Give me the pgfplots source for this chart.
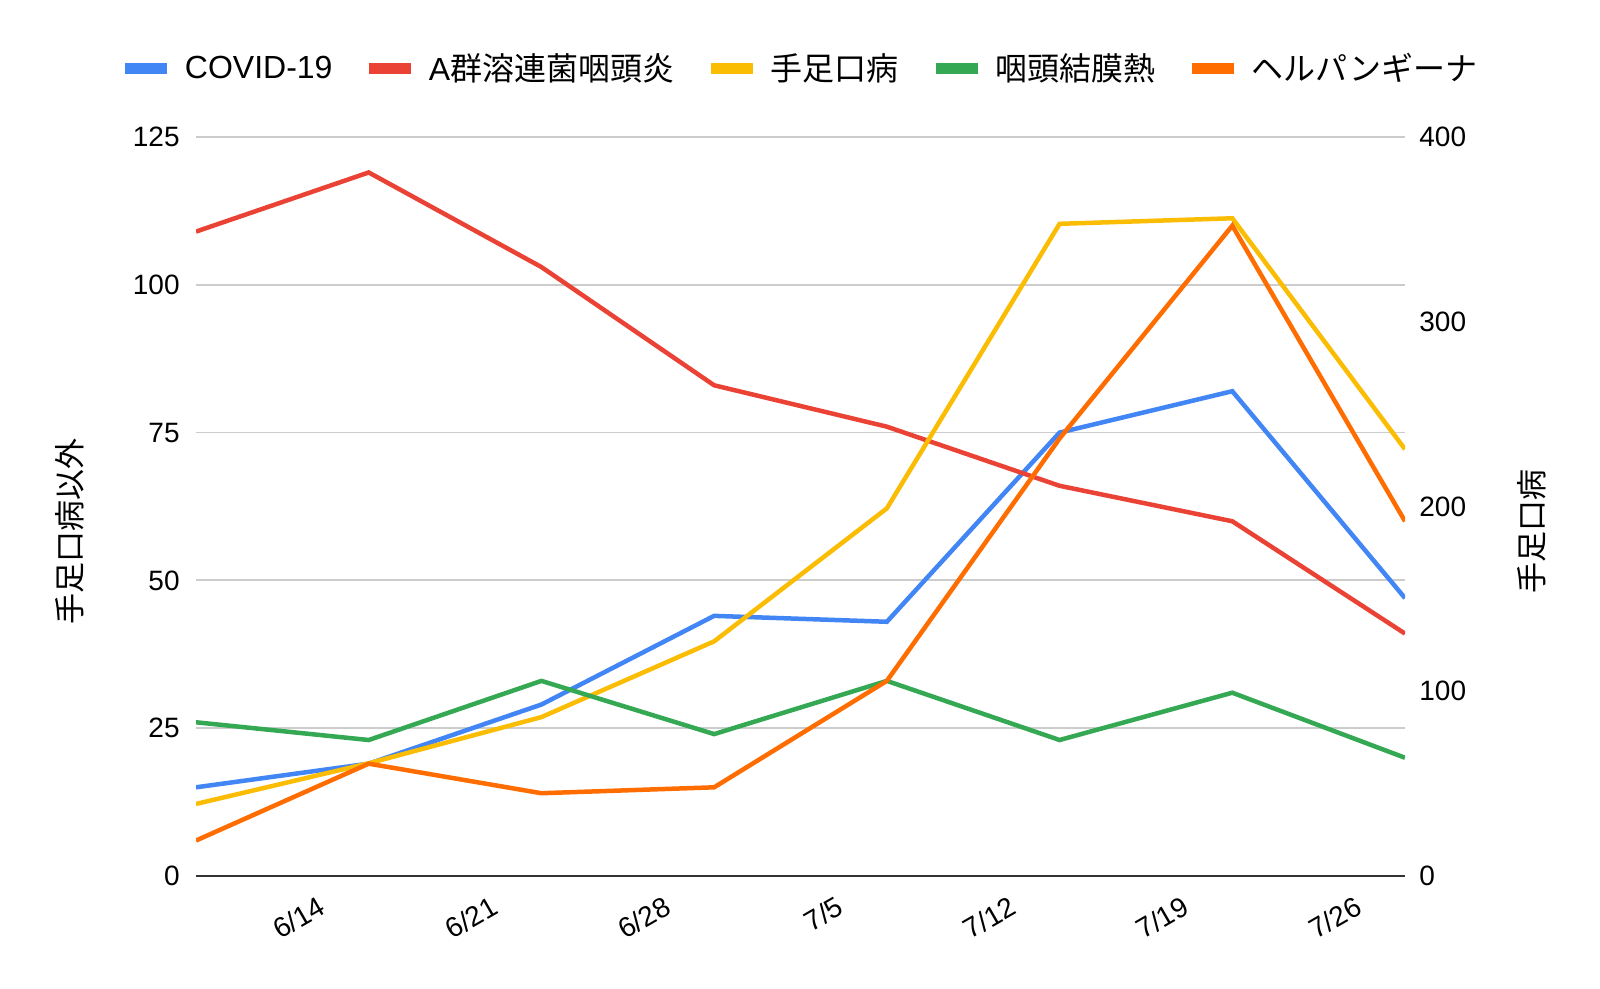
\documentclass[border=0pt]{standalone}
\usepackage{fontspec}
\setmainfont{Liberation Sans}
\newfontfamily\cjk{Noto Sans CJK JP}
\usepackage{pgfplots}
\pgfplotsset{compat=1.18}
\definecolor{cblue}{HTML}{4285F4}
\definecolor{cred}{HTML}{EA4335}
\definecolor{cyellow}{HTML}{FBBC04}
\definecolor{cgreen}{HTML}{34A853}
\definecolor{corange}{HTML}{FF6D01}
\definecolor{cgrid}{HTML}{CCCCCC}
\definecolor{caxis}{HTML}{333333}
\pgfplotsset{
  base/.style={at={(98pt,56.5pt)}, anchor=south west, scale only axis,
    width=604.5pt, height=369.5pt, xmin=0, xmax=7, major tick length=0pt,
    tick label style={font=\fontsize{14}{16}\selectfont, /pgf/number format/assume math mode=true},
    every axis plot/.append style={line width=2.25pt, mark=none}},
}
\begin{document}
\begin{tikzpicture}
\useasboundingbox (0,0) rectangle (800pt,494.5pt);
\begin{axis}[base, ymin=0, ymax=125, ytick={0,25,50,75,100,125},
  xtick={0.64,1.64,2.64,3.64,4.64,5.64,6.64},
  xticklabels={6/14,6/21,6/28,7/5,7/12,7/19,7/26},
  xticklabel style={rotate=30, anchor=east, inner sep=0pt, yshift=-16pt},
  yticklabel style={anchor=east, inner sep=0pt, xshift=-8pt},
  ymajorgrids, grid style={draw=cgrid, line width=0.9pt},
  axis x line*=bottom, axis y line*=left,
  x axis line style={draw=caxis, line width=1.3pt, -},
  y axis line style={draw=none},
  every axis y label/.style={at={(axis description cs:-0.1046,0.4655)}, rotate=90, anchor=center, font=\cjk\fontsize{15.5}{18}\selectfont},
  ylabel={手足口病以外},
  legend columns=-1,
  legend style={at={(0.5,1)}, anchor=center, yshift=34.25pt, draw=none, fill=none,
    font=\fontsize{16}{18}\selectfont,
    /tikz/every odd column/.append style={column sep=4pt},
    /tikz/every even column/.append style={column sep=13.7pt}},
  legend image code/.code={\draw[#1, line width=5.5pt] (0pt,0pt) -- (21pt,0pt);},
]
\addplot[cblue] coordinates {(0,15) (1,19) (2,29) (3,44) (4,43) (5,75) (6,82) (7,47)};
\addlegendentry{COVID-19}
\addplot[cred] coordinates {(0,109) (1,119) (2,103) (3,83) (4,76) (5,66) (6,60) (7,41)};
\addlegendentry{A\cjk 群溶連菌咽頭炎}
\addlegendimage{cyellow, line width=2.25pt}
\addlegendentry{\cjk 手足口病}
\addlegendimage{cgreen, line width=2.25pt}
\addlegendentry{\cjk 咽頭結膜熱}
\addlegendimage{corange, line width=2.25pt}
\addlegendentry{\cjk ヘルパンギーナ}
\end{axis}
\begin{axis}[base, ymin=0, ymax=400, ytick={0,100,200,300,400},
  hide x axis, axis y line*=right, y axis line style={draw=none},
  yticklabel style={anchor=west, inner sep=0pt, xshift=7pt},
  every axis y label/.style={at={(axis description cs:1.105,0.4655)}, rotate=90, anchor=center, font=\cjk\fontsize{15.5}{18}\selectfont},
  ylabel={手足口病},
]
\addplot[cyellow] coordinates {(0,39) (1,61) (2,86) (3,127) (4,199) (5,353) (6,356) (7,231)};
\end{axis}
\begin{axis}[base, ymin=0, ymax=125, hide axis]
\addplot[cgreen] coordinates {(0,26) (1,23) (2,33) (3,24) (4,33) (5,23) (6,31) (7,20)};
\addplot[corange] coordinates {(0,6) (1,19) (2,14) (3,15) (4,33) (5,74) (6,110) (7,60)};
\end{axis}
\end{tikzpicture}
\end{document}
